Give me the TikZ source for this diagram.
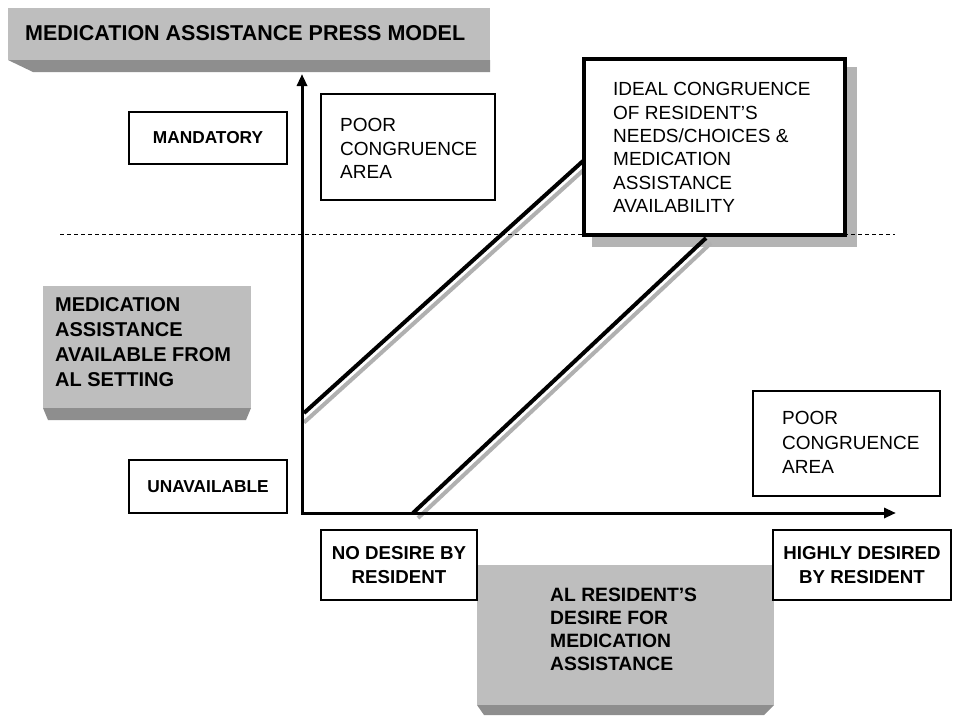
\documentclass[tikz,border=0pt]{standalone}
\usepackage{fontspec}
\setmainfont{Liberation Sans}
\usetikzlibrary{arrows.meta}
\definecolor{facegray}{HTML}{BEBEBE}
\definecolor{bevelgray}{HTML}{8E8E8E}
\definecolor{shadowgray}{HTML}{B4B4B4}
\definecolor{linegray}{HTML}{B0B0B0}
\begin{document}
\begin{tikzpicture}[x=1pt,y=-1pt,
  plainbox/.style={draw=black, line width=1.3pt, fill=white, inner sep=0pt},
  lbl/.style={inner sep=0pt, align=left, anchor=north west},
  regtext/.style={font=\fontsize{19}{23.4}\selectfont},
  boldbox/.style={font=\bfseries\fontsize{17.3}{21}\selectfont},
  boldaxis/.style={font=\bfseries\fontsize{18.7}{23.5}\selectfont, align=center},
  axisline/.style={line width=3pt, line join=miter},
  diagblack/.style={line width=4pt, black},
  diaggray/.style={line width=4pt, linegray},
  guide/.style={line width=1pt, dash pattern=on 4pt off 3pt}
]
\useasboundingbox[fill=white] (0,0) rectangle (953,715);

% title bar
\fill[facegray] (8,8) rectangle (490,60);
\fill[bevelgray] (8,60) -- (490,60) -- (490,72) -- (33,72) -- cycle;
\node[inner sep=0pt, anchor=west, font=\bfseries\fontsize{21.5}{26}\selectfont] (title) at (25,33) {MEDICATION ASSISTANCE PRESS MODEL};

% left gray box
\fill[facegray] (43,286) rectangle (251,408);
\fill[bevelgray] (43,408) -- (251,408) -- (246,420) -- (48,420) -- cycle;
\node[lbl, font=\bfseries\fontsize{20}{25}\selectfont] (ylabel) at (55,297.8) {MEDICATION\\ASSISTANCE\\AVAILABLE FROM\\AL SETTING};

% bottom gray box
\fill[facegray] (477,565) rectangle (774,705);
\fill[bevelgray] (477,705) -- (774,705) -- (764,715) -- (484,715) -- cycle;
\node[lbl, font=\bfseries\fontsize{19.3}{23}\selectfont] (xlabel) at (550,588.1) {AL RESIDENT’S\\DESIRE FOR\\MEDICATION\\ASSISTANCE};

% scale boxes
\node[plainbox, boldbox, minimum width=158pt, minimum height=52pt] (mand) at (208,138) {MANDATORY};
\node[plainbox, boldbox, minimum width=158pt, minimum height=53pt] (unav) at (208,486.5) {UNAVAILABLE};
\node[plainbox, boldaxis, minimum width=156pt, minimum height=70pt] (nodes) at (399,565) {NO DESIRE BY\\RESIDENT};
\node[plainbox, boldaxis, minimum width=178pt, minimum height=70pt] (high) at (862,565) {HIGHLY DESIRED\\BY RESIDENT};

% poor congruence boxes
\node[plainbox, minimum width=174pt, minimum height=106pt] (poortop) at (408,147) {};
\node[lbl, regtext] (poortoptext) at (340,118.2) {POOR\\CONGRUENCE\\AREA};
\node[plainbox, minimum width=187pt, minimum height=105pt] (poorbot) at (846.5,443.5) {};
\node[lbl, regtext, font=\fontsize{19}{24.5}\selectfont] (poorbottext) at (782,411.2) {POOR\\CONGRUENCE\\AREA};

% ideal box shadow
\fill[shadowgray] (592,67) rectangle (857,247);

% diagonal bands
\coordinate (ug1) at (304,422.5);
\coordinate (ug2) at (588,166);
\coordinate (u1) at (304,413);
\coordinate (u2) at (583,161);
\coordinate (lg1) at (418,518);
\coordinate (lg2) at (711,243);
\coordinate (l1) at (413,513);
\coordinate (l2) at (706,238);
\draw[diaggray] (ug1) -- (ug2);
\draw[diaggray] (lg1) -- (lg2);
\draw[diagblack] (u1) -- (u2);
\draw[diagblack] (l1) -- (l2);

% axes
\coordinate (O) at (302,513);
\coordinate (ytop) at (302,74);
\coordinate (xend) at (896,513);
\draw[axisline, {Triangle[length=12pt,width=10pt]}-{Triangle[length=12pt,width=10pt]}] (ytop) -- (O) -- (xend);

% ideal box
\node[draw=black, line width=4pt, fill=white, inner sep=0pt, minimum width=261pt, minimum height=176pt] (ideal) at (714.5,147) {};
\node[lbl, regtext] (idealtext) at (613,82.2) {IDEAL CONGRUENCE\\OF RESIDENT’S\\NEEDS/CHOICES \&\\MEDICATION\\ASSISTANCE\\AVAILABILITY};

% dashed guide
\coordinate (g1) at (60,234);
\coordinate (g2) at (895,234);
\draw[guide] (g1) -- (g2);
\end{tikzpicture}
\end{document}
